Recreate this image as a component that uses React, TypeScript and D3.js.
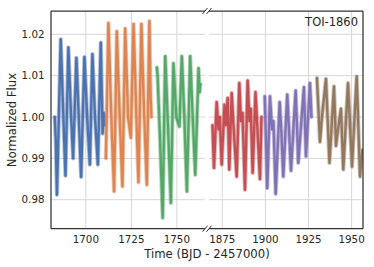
import React from "react";
import * as d3 from "d3";

// ---- data ----
const blueT = [1682.9, 1683.5, 1684.1, 1686.2, 1687.4, 1688.8, 1690.4, 1691.7, 1693.0, 1694.8, 1696.1, 1697.4, 1699.2, 1700.6, 1702.2, 1703.6, 1705.0, 1706.6, 1708.2, 1709.2, 1709.8, 1710.4];
const blueF = [1.000, 0.994, 0.9812, 1.0188, 1.003, 0.9858, 1.0168, 1.002, 0.990, 1.0143, 1.000, 0.9855, 1.0145, 1.001, 0.9885, 1.0152, 1.000, 0.9885, 1.0180, 0.996, 1.001, 0.998];

const orangeT = [1711.0, 1712.4, 1713.9, 1715.5, 1717.0, 1718.5, 1720.1, 1721.6, 1723.2, 1724.7, 1726.2, 1727.6, 1728.9, 1730.5, 1731.9, 1733.5, 1734.9, 1735.5, 1736.0];
const orangeF = [0.990, 1.0227, 1.001, 0.9820, 1.0207, 1.001, 0.9832, 1.0214, 1.000, 0.995, 1.0225, 1.002, 0.9842, 1.0225, 1.002, 0.9836, 1.0232, 1.006, 1.000];

const greenT = [1739.0, 1739.4, 1740.8, 1742.2, 1743.6, 1745.1, 1746.7, 1748.1, 1749.7, 1751.4, 1752.7, 1754.1, 1755.5, 1757.3, 1758.7, 1760.1, 1761.9, 1762.5, 1762.9];
const greenF = [1.012, 1.010, 0.994, 0.9756, 1.0147, 0.998, 0.9792, 1.013, 1.000, 0.9977, 1.0147, 1.000, 0.9820, 1.0147, 1.000, 0.9860, 1.0118, 1.006, 1.008];

const redT = [1869.32, 1870.19, 1871.75, 1872.80, 1873.55, 1874.65, 1876.28, 1877.14, 1878.13, 1879.06, 1880.45, 1881.49, 1883.35, 1884.86, 1885.84, 1886.71, 1888.16, 1889.72, 1890.77, 1891.52, 1892.62, 1894.25, 1895.41, 1896.86, 1897.72];
const redF = [0.998, 0.9877, 1.0036, 0.997, 1.000, 0.9885, 1.0030, 0.998, 1.0046, 0.9873, 1.0058, 0.998, 0.9856, 1.0082, 0.999, 1.001, 0.9824, 1.0088, 0.999, 1.002, 0.9865, 1.0060, 0.997, 0.985, 1.000];

const purpleT = [1899.64, 1901.09, 1902.65, 1903.81, 1904.68, 1905.96, 1908.28, 1909.32, 1910.36, 1912.68, 1913.67, 1914.83, 1917.55, 1918.30, 1919.06, 1922.36, 1922.94, 1923.52, 1925.84, 1926.71];
const purpleF = [1.005, 0.9828, 1.0050, 0.997, 0.999, 0.9814, 1.0036, 0.996, 0.9856, 1.0054, 0.997, 0.9870, 1.0064, 0.998, 0.9889, 1.0072, 0.999, 0.9905, 1.0082, 1.000];

const brownT = [1929.90, 1931.64, 1932.80, 1935.12, 1937.15, 1939.77, 1940.93, 1941.80, 1943.83, 1945.17, 1947.90, 1950.22, 1952.94, 1954.86, 1956.19];
const brownF = [1.0094, 0.9940, 1.000, 1.0092, 0.9889, 1.0074, 0.993, 0.996, 1.002, 0.9873, 1.0082, 0.988, 1.0098, 0.9856, 0.992];

const leftTicks = [1700, 1725, 1750];
const rightTicks = [1875, 1900, 1925, 1950];
const yTicks = [0.98, 0.99, 1.0, 1.01, 1.02];
const title = "TOI-1860";
const xLabel = "Time (BJD - 2457000)";
const yLabel = "Normalized Flux";

const COLORS = ["#4C72B0", "#DD8452", "#55A868", "#C44E52", "#8172B3", "#937860"];

const leftSectors = [
  { t: blueT, f: blueF, c: COLORS[0] },
  { t: orangeT, f: orangeF, c: COLORS[1] },
  { t: greenT, f: greenF, c: COLORS[2] },
];
const rightSectors = [
  { t: redT, f: redF, c: COLORS[3] },
  { t: purpleT, f: purpleF, c: COLORS[4] },
  { t: brownT, f: brownF, c: COLORS[5] },
];

export default function App() {
  const W = 374, H = 267;
  const top = 11, bottom = 228.7;
  const lx0 = 51, lx1 = 205, rx0 = 209, rx1 = 363;
  const y = d3.scaleLinear().domain([0.97299, 1.02564]).range([bottom, top]);
  const xl = d3.scaleLinear().domain([1680.85, 1765.45]).range([lx0, lx1]);
  const xr = d3.scaleLinear().domain([1867.3, 1956.6]).range([rx0, rx1]);
  const font = "'DejaVu Sans', sans-serif";
  const txt = "#262626";
  const grid = "#d6d6d6";
  const spine = "#333";

  const path = (x: d3.ScaleLinear<number, number>, t: number[], f: number[]) =>
    d3.line<number>().x((d) => x(d)).y((_, i) => y(f[i]))(t) || "";

  const brk = (cx: number, cy: number) => (
    <line x1={cx - 2.5} y1={cy + 3} x2={cx + 2.5} y2={cy - 3} stroke={spine} strokeWidth={1} />
  );

  const drawSector = (x: d3.ScaleLinear<number, number>, s: { t: number[]; f: number[]; c: string }, i: number) => {
    const d = path(x, s.t, s.f);
    return (
      <g key={i}>
        <path d={d} fill="none" stroke={s.c} strokeWidth={4.2} strokeLinejoin="round" strokeLinecap="round" opacity={0.45} />
        <path d={d} fill="none" stroke={s.c} strokeWidth={2.4} strokeLinejoin="round" strokeLinecap="round" />
      </g>
    );
  };

  return (
    <svg width={W} height={H} style={{ position: "absolute", left: 0, top: 0 }}>
      <rect width={W} height={H} fill="#fff" />
      {yTicks.map((v) => (
        <g key={"gy" + v}>
          <line x1={lx0} x2={lx1} y1={y(v)} y2={y(v)} stroke={grid} strokeWidth={1} />
          <line x1={rx0} x2={rx1} y1={y(v)} y2={y(v)} stroke={grid} strokeWidth={1} />
        </g>
      ))}
      {leftTicks.map((v) => (
        <line key={"gl" + v} x1={xl(v)} x2={xl(v)} y1={top} y2={bottom} stroke={grid} strokeWidth={1} />
      ))}
      {rightTicks.map((v) => (
        <line key={"gr" + v} x1={xr(v)} x2={xr(v)} y1={top} y2={bottom} stroke={grid} strokeWidth={1} />
      ))}
      <defs>
        <clipPath id="cl"><rect x={lx0} y={top} width={lx1 - lx0} height={bottom - top} /></clipPath>
        <clipPath id="cr"><rect x={rx0} y={top} width={rx1 - rx0} height={bottom - top} /></clipPath>
      </defs>
      <g clipPath="url(#cl)">{leftSectors.map((s, i) => drawSector(xl, s, i))}</g>
      <g clipPath="url(#cr)">{rightSectors.map((s, i) => drawSector(xr, s, i))}</g>
      <line x1={lx0} x2={lx0} y1={top} y2={bottom} stroke={spine} strokeWidth={1.25} />
      <line x1={rx1} x2={rx1} y1={top} y2={bottom} stroke={spine} strokeWidth={1.25} />
      <line x1={lx0} x2={lx1} y1={top} y2={top} stroke={spine} strokeWidth={1.25} />
      <line x1={lx0} x2={lx1} y1={bottom} y2={bottom} stroke={spine} strokeWidth={1.25} />
      <line x1={rx0} x2={rx1} y1={top} y2={top} stroke={spine} strokeWidth={1.25} />
      <line x1={rx0} x2={rx1} y1={bottom} y2={bottom} stroke={spine} strokeWidth={1.25} />
      {brk(lx1, top)}
      {brk(lx1, bottom)}
      {brk(rx0, top)}
      {brk(rx0, bottom)}
      {yTicks.map((v) => (
        <text key={"ty" + v} x={44.5} y={y(v)} dy="0.35em" textAnchor="end" fontFamily={font} fontSize={10.3} fill={txt}>
          {v.toFixed(2)}
        </text>
      ))}
      {leftTicks.map((v) => (
        <text key={"tl" + v} x={xl(v)} y={243} textAnchor="middle" fontFamily={font} fontSize={10.3} fill={txt}>{v}</text>
      ))}
      {rightTicks.map((v) => (
        <text key={"tr" + v} x={xr(v)} y={243} textAnchor="middle" fontFamily={font} fontSize={10.3} fill={txt}>{v}</text>
      ))}
      <text x={207} y={258} textAnchor="middle" fontFamily={font} fontSize={11.7} fill={txt}>{xLabel}</text>
      <text transform={`translate(16,120) rotate(-90)`} textAnchor="middle" fontFamily={font} fontSize={11.7} fill={txt}>{yLabel}</text>
      <text x={358} y={26} textAnchor="end" fontFamily={font} fontSize={11.5} fill={txt}>{title}</text>
    </svg>
  );
}
